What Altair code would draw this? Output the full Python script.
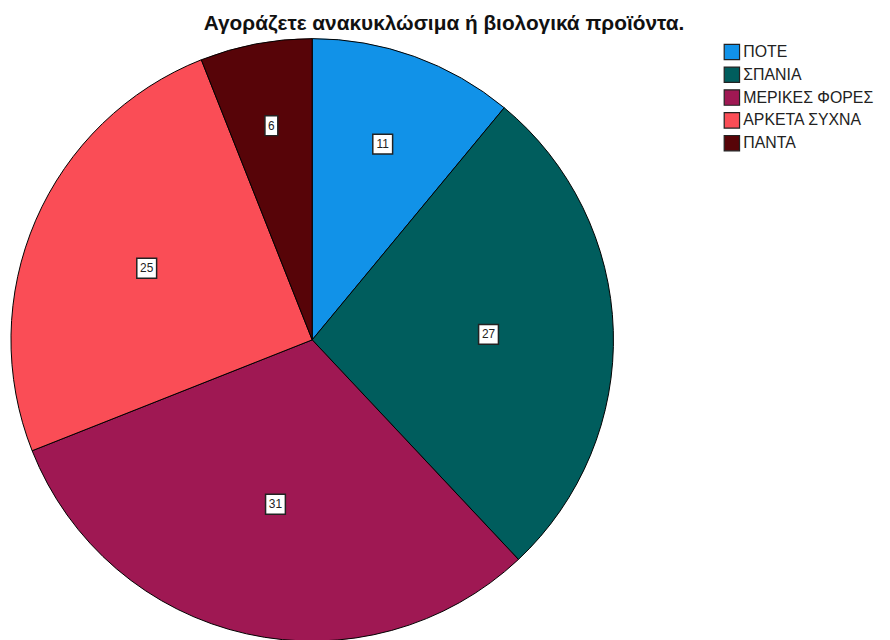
import altair as alt
import pandas as pd

title_text = ["Αγοράζετε ανακυκλώσιμα ή βιολογικά προϊόντα."]
categories = ["ΠΟΤΕ", "ΣΠΑΝΙΑ", "ΜΕΡΙΚΕΣ ΦΟΡΕΣ", "ΑΡΚΕΤΑ ΣΥΧΝΑ", "ΠΑΝΤΑ"]
values = [11, 27, 31, 25, 6]
colors = ["#1192e8", "#005d5d", "#9f1853", "#fa4d56", "#570408"]

df = pd.DataFrame({"cat": categories, "value": values, "order": list(range(len(categories)))})

CX, CY, R = 307, 332, 304
FONT = "Liberation Sans"

base = alt.Chart(df)

pie = base.mark_arc(radius=R, stroke="black", strokeWidth=1).encode(
    theta=alt.Theta("value:Q", stack=True),
    order=alt.Order("order:Q"),
    color=alt.Color(
        "cat:N",
        scale=alt.Scale(domain=categories, range=colors),
        legend=alt.Legend(
            title=None,
            orient="none",
            legendX=722,
            legendY=33,
            symbolType="square",
            symbolSize=240,
            symbolStrokeColor="#222",
            symbolStrokeWidth=1.2,
            symbolOpacity=1,
            labelFont=FONT,
            labelFontSize=16,
            labelColor="#222",
            labelOffset=3,
            labelLimit=300,
            rowPadding=2,
        ),
    ),
    x=alt.value(CX),
    y=alt.value(CY),
)

lab = (
    base.transform_window(cum="sum(value)", sort=[alt.SortField("order")])
    .transform_joinaggregate(total="sum(value)")
    .transform_calculate(
        ang="(datum.cum - datum.value/2) / datum.total * 2 * PI",
        lr="232 - 2 * datum.value",
        w="length(toString(datum.value)) * 7 + 6",
    )
    .transform_calculate(
        px=f"{CX} + datum.lr * sin(datum.ang)",
        py=f"{CY} - datum.lr * cos(datum.ang)",
    )
    .transform_calculate(
        bx1="datum.px - datum.w/2",
        bx2="datum.px + datum.w/2",
        by1="datum.py - 10",
        by2="datum.py + 10",
    )
)

box = lab.mark_rect(fill="white", stroke="#222", strokeWidth=1.5).encode(
    x=alt.X("bx1:Q", scale=None, axis=None),
    x2="bx2:Q",
    y=alt.Y("by1:Q", scale=None, axis=None),
    y2="by2:Q",
)

txt = lab.mark_text(font=FONT, fontSize=12, color="#222", baseline="middle", align="center").encode(
    x=alt.X("px:Q", scale=None, axis=None),
    y=alt.Y("py:Q", scale=None, axis=None),
    text="value:Q",
)

title = alt.Chart(pd.DataFrame({"t": title_text})).mark_text(
    font=FONT, fontSize=21, fontWeight="bold", color="#111", align="center", baseline="middle"
).encode(x=alt.value(440), y=alt.value(13), text="t:N")

chart = (
    alt.layer(pie, box, txt, title)
    .properties(width=882, height=632, autosize="none", padding=0)
    .configure_view(stroke=None)
)

chart.save("out.html", embed_options={"renderer": "svg", "actions": False})
